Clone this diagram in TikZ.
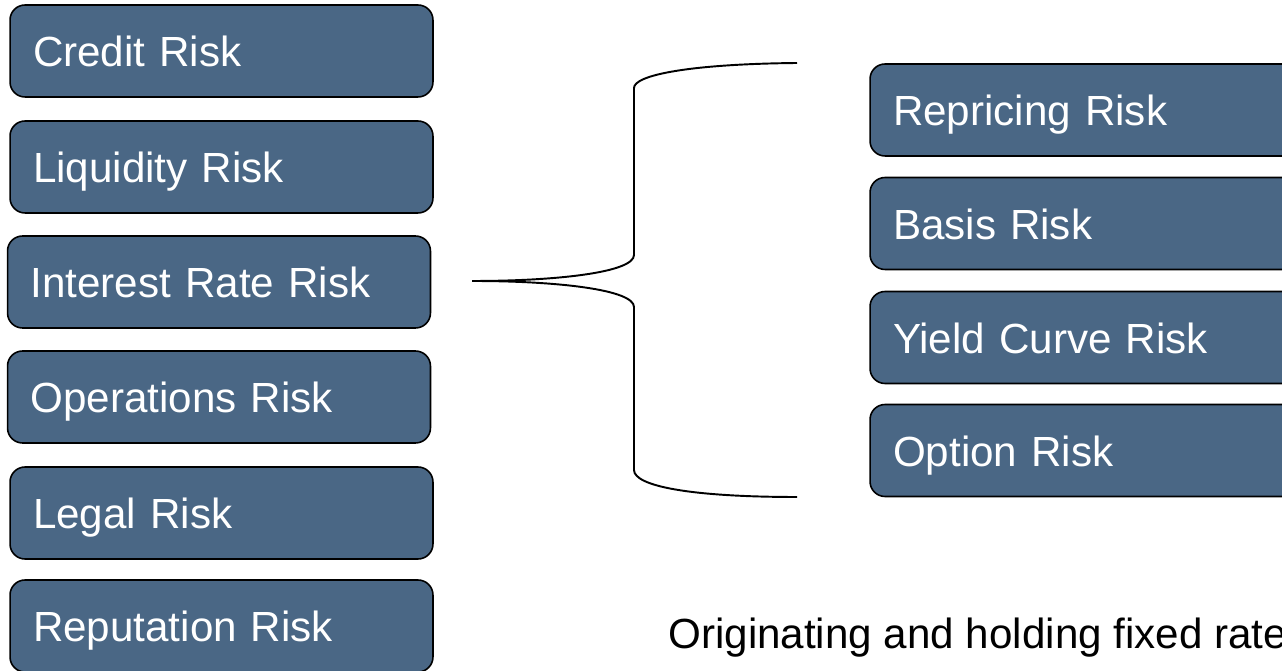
\documentclass[tikz,border=0pt]{standalone}
\usepackage{fontspec}
\setmainfont{Liberation Sans}
\definecolor{riskblue}{HTML}{4A6785}

\begin{document}
\begin{tikzpicture}[x=.02cm,y=-.02cm,
    riskbox/.style={draw=black,line width=.9pt,fill=riskblue,rounded corners=.3cm,
      minimum height=1.84cm,text width=#1,align=left,inner xsep=.46cm,inner ysep=0pt,
      text height=.64cm,text depth=0pt,
      text=white,font=\fontsize{24}{28}\selectfont},
    riskbox/.default=7.54cm]
      \useasboundingbox (0,0) rectangle (1282,671);
      \node[riskbox] (credit) at (221.5,51) {Credit Risk};
      \node[riskbox] (liquidity) at (221.5,167) {Liquidity Risk};
      \node[riskbox] (interest) at (219,282) {Interest Rate Risk};
      \node[riskbox] (operations) at (219,397) {Operations Risk};
      \node[riskbox] (legal) at (221.5,513) {Legal Risk};
      \node[riskbox] (reputation) at (221.5,626) {Reputation Risk};
      \node[riskbox=7.88cm] (repricing) at (1090,110) {Repricing Risk};
      \node[riskbox=7.88cm] (basis) at (1090,223.5) {Basis Risk};
      \node[riskbox=7.88cm] (yield) at (1090,337.5) {Yield Curve Risk};
      \node[riskbox=7.88cm] (option) at (1090,450.5) {Option Risk};
      \coordinate (tip) at (472,281);
      \coordinate (top) at (797,63);
      \coordinate (bot) at (797,497);
      \draw[line width=1.1pt]
        (tip) .. controls (560,281) and (634,272) .. (634,255) -- (634,88)
        .. controls (634,75) and (690,64) .. (top);
      \draw[line width=1.1pt]
        (tip) .. controls (560,281) and (634,290) .. (634,307) -- (634,470)
        .. controls (634,486) and (690,497) .. (bot);
      \node[anchor=base west,inner sep=0pt,font=\fontsize{24}{28}\selectfont]
        (note) at (668,649) {Originating and holding fixed rate};
    \end{tikzpicture}
\end{document}
